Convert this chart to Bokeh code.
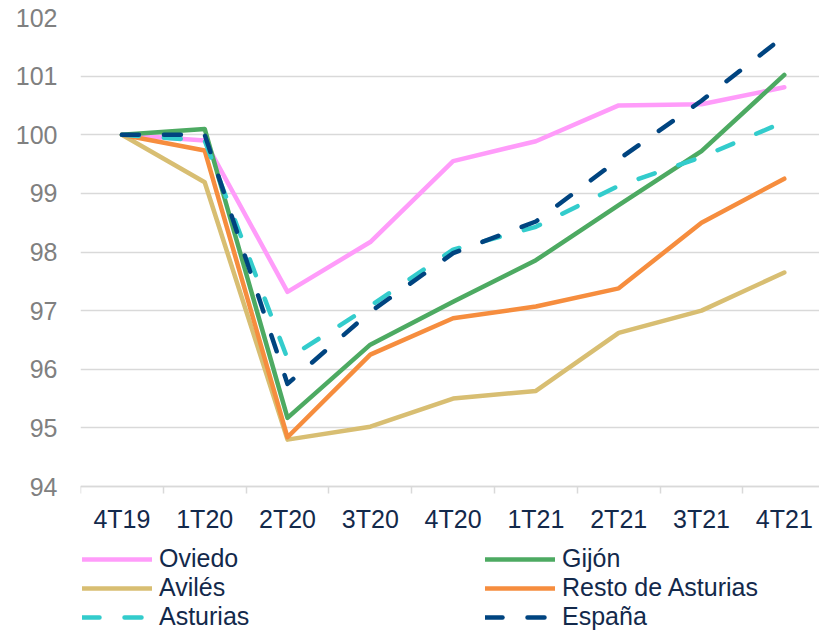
from bokeh.plotting import figure
from bokeh.models import FixedTicker, Legend, LegendItem, Range1d
from bokeh.embed import file_html
from bokeh.resources import INLINE

# Quarterly index, 4T19 = 100
quarters = ["4T19", "1T20", "2T20", "3T20", "4T20", "1T21", "2T21", "3T21", "4T21"]
oviedo = [100.0, 99.90, 97.32, 98.17, 99.55, 99.89, 100.50, 100.52, 100.81]
gijon = [100.0, 100.10, 95.17, 96.42, 97.15, 97.86, 98.80, 99.72, 101.02]
aviles = [100.0, 99.19, 94.80, 95.02, 95.50, 95.63, 96.62, 97.00, 97.65]
resto = [100.0, 99.73, 94.84, 96.25, 96.87, 97.07, 97.38, 98.50, 99.25]
asturias = [100.0, 99.90, 96.18, 97.08, 98.04, 98.43, 99.13, 99.62, 100.22]
espana = [100.0, 100.00, 95.75, 96.98, 97.98, 98.52, 99.58, 100.58, 101.68]
y_ticks = [94, 95, 96, 97, 98, 99, 100, 101, 102]

FONT = "Liberation Sans"
NAVY_TEXT = "#13294B"
GRID = "#D9D9D9"

x = list(range(len(quarters)))

# The frame runs to the bottom of the canvas so the legend (drawn inside the
# frame) can sit under the category axis, which is pinned at y = 94.
p = figure(width=819, height=630, output_backend="svg", toolbar_location=None,
           x_range=Range1d(-0.5, 8.425), y_range=Range1d(91.544, 102),
           min_border_left=80, min_border_right=0, min_border_top=17,
           min_border_bottom=0)
p.outline_line_color = None
p.background_fill_color = "white"
p.border_fill_color = "white"

# y axis: labels only, grey
p.yaxis.ticker = FixedTicker(ticks=y_ticks)
p.yaxis.axis_line_color = None
p.yaxis.major_tick_line_color = None
p.yaxis.minor_tick_line_color = None
p.yaxis.major_tick_out = 0
p.yaxis.major_tick_in = 0
p.yaxis.major_label_standoff = 23
p.yaxis.major_label_text_color = "#808080"
p.yaxis.major_label_text_font = FONT
p.yaxis.major_label_text_font_size = "25px"

# x axis: labels at category centres, tick marks at category boundaries
p.xaxis.fixed_location = 94
p.xaxis.ticker = FixedTicker(ticks=x, minor_ticks=[i - 0.5 for i in range(len(quarters) + 1)])
p.xaxis.major_label_overrides = {i: q for i, q in enumerate(quarters)}
p.xaxis.major_tick_line_color = None
p.xaxis.major_tick_out = 0
p.xaxis.major_tick_in = 0
p.xaxis.minor_tick_line_color = GRID
p.xaxis.minor_tick_line_width = 1.5
p.xaxis.minor_tick_out = 7
p.xaxis.minor_tick_in = 0
p.xaxis.axis_line_color = GRID
p.xaxis.axis_line_width = 1.5
p.xaxis.major_label_standoff = 11
p.xaxis.major_label_text_color = NAVY_TEXT
p.xaxis.major_label_text_font = FONT
p.xaxis.major_label_text_font_size = "25px"

p.xgrid.grid_line_color = None
p.ygrid.grid_line_color = GRID
p.ygrid.grid_line_width = 1.5

series = [
    ("Oviedo", oviedo, "#FF9CFA", None),
    ("Gijón", gijon, "#4DAA62", None),
    ("Avilés", aviles, "#D8BE72", None),
    ("Resto de Asturias", resto, "#F68D3E", None),
    ("Asturias", asturias, "#33CCCC", "17 25"),
    ("España", espana, "#004480", "17 25"),
]

renderers = {}
for name, vals, color, dash in series:
    kw = dict(line_color=color, line_width=4.5, line_cap="round", line_join="round")
    if dash:
        kw["line_dash"] = dash
    renderers[name] = p.line(x, vals, **kw)


def make_legend(names, loc):
    return Legend(items=[LegendItem(label=n, renderers=[renderers[n]]) for n in names],
                  location=loc, orientation="vertical",
                  background_fill_alpha=0, border_line_color=None,
                  glyph_width=70, glyph_height=20, label_standoff=7,
                  label_height=28, spacing=0, padding=0, margin=0,
                  label_text_font=FONT, label_text_font_size="25px",
                  label_text_color=NAVY_TEXT)


p.add_layout(make_legend(["Oviedo", "Avilés", "Asturias"], (2, -1)))
p.add_layout(make_legend(["Gijón", "Resto de Asturias", "España"], (405, -1)))

open("out.html", "w").write(file_html(p, INLINE))
